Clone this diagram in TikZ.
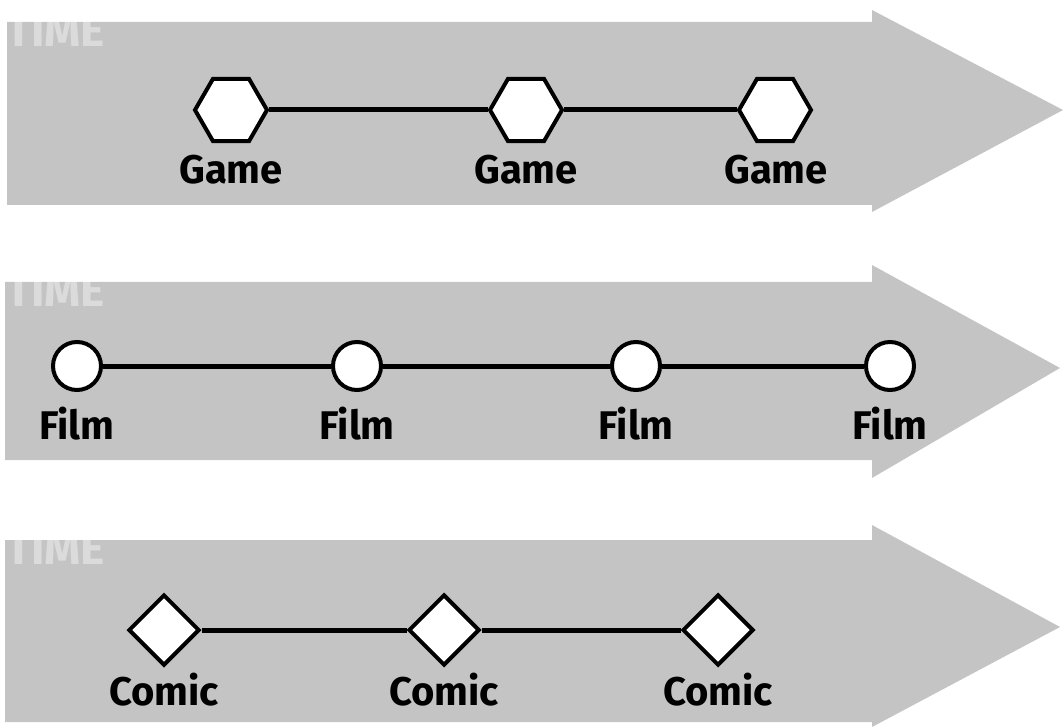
\documentclass[tikz,border=0pt]{standalone}
\usepackage{fontspec}
\setmainfont{Fira Sans}
\usetikzlibrary{shapes.geometric}
\definecolor{band}{RGB}{196,196,196}
\tikzset{
  bandarrow/.style={fill=band, draw=none},
  hexnode/.style={regular polygon, regular polygon sides=6, minimum size=72pt, inner sep=0pt, draw=black, line width=4pt, fill=white},
  filmnode/.style={circle, minimum size=48pt, inner sep=0pt, draw=black, line width=4pt, fill=white},
  comicnode/.style={diamond, aspect=1, minimum size=71pt, inner sep=0pt, draw=black, line width=4pt, fill=white},
  lbl/.style={font=\fontsize{40}{40}\selectfont\bfseries, text=black, inner sep=0pt},
  timelbl/.style={font=\fontsize{46}{46}\selectfont\bfseries, text=white, opacity=0.4, inner sep=0pt, anchor=north west},
  link/.style={line width=5pt, draw=black}
}
\begin{document}
\begin{tikzpicture}[x=1pt,y=-1pt]
\useasboundingbox (0,0) rectangle (1063,727);
% bands
\path[bandarrow] (7,22) -- (872,22) -- (872,10) -- (1063,110) -- (872,212) -- (872,205) -- (7,205) -- cycle;
\path[bandarrow] (5,282) -- (872,282) -- (872,265) -- (1060,368) -- (872,478) -- (872,460) -- (5,460) -- cycle;
\path[bandarrow] (5,540) -- (872,540) -- (872,525) -- (1060,627) -- (872,727) -- (872,722) -- (5,722) -- cycle;
% TIME labels (clipped to band tops)
\begin{scope}
\clip (5,22) rectangle (200,60);
\node[timelbl] (t1) at (6,14) {TIME};
\end{scope}
\begin{scope}
\clip (5,282) rectangle (200,320);
\node[timelbl] (t2) at (6,274) {TIME};
\end{scope}
\begin{scope}
\clip (5,540) rectangle (200,578);
\node[timelbl] (t3) at (6,532) {TIME};
\end{scope}
% Game row
\node[hexnode] (g1) at (231,110) {};
\node[hexnode] (g2) at (526,110) {};
\node[hexnode] (g3) at (775,110) {};
\draw[link] (g1) -- (g2);
\draw[link] (g2) -- (g3);
\node[lbl] (lg1) at (231,170) {Game};
\node[lbl] (lg2) at (526,170) {Game};
\node[lbl] (lg3) at (776,170) {Game};
% Film row
\node[filmnode] (f1) at (77,366) {};
\node[filmnode] (f2) at (357,366) {};
\node[filmnode] (f3) at (636,366) {};
\node[filmnode] (f4) at (890,366) {};
\draw[link] (f1) -- (f2);
\draw[link] (f2) -- (f3);
\draw[link] (f3) -- (f4);
\node[lbl] (lf1) at (77,424) {Film};
\node[lbl] (lf2) at (357,424) {Film};
\node[lbl] (lf3) at (636,424) {Film};
\node[lbl] (lf4) at (890,424) {Film};
% Comic row
\node[comicnode] (c1) at (164,630) {};
\node[comicnode] (c2) at (444,630) {};
\node[comicnode] (c3) at (718,630) {};
\draw[link] (c1) -- (c2);
\draw[link] (c2) -- (c3);
\node[lbl] (lc1) at (164,690) {Comic};
\node[lbl] (lc2) at (444,690) {Comic};
\node[lbl] (lc3) at (718,690) {Comic};
\end{tikzpicture}
\end{document}
